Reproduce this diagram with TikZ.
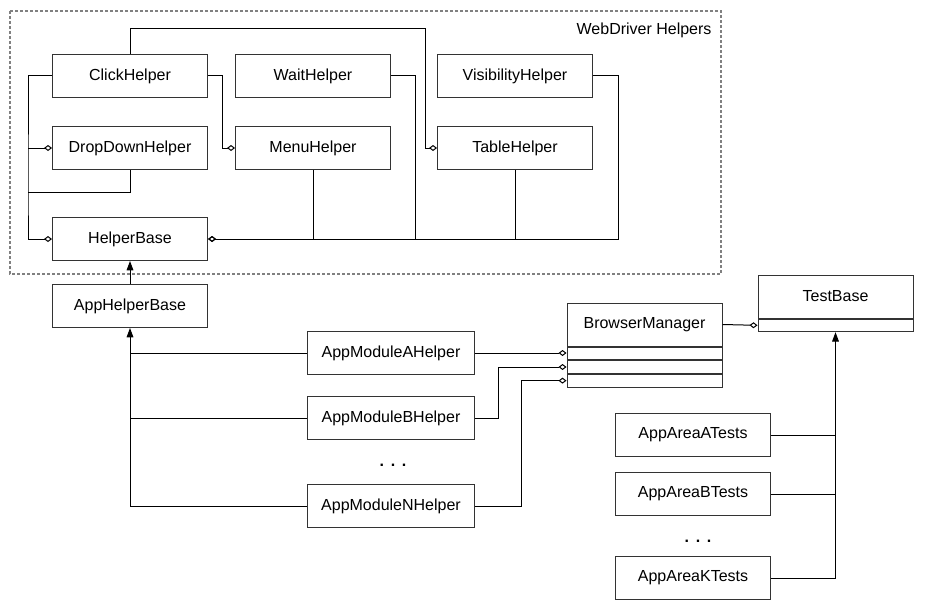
\documentclass[tikz,border=0pt]{standalone}
\usepackage{fontspec}
\setmainfont{Liberation Sans}
\usetikzlibrary{arrows.meta,positioning}
\tikzstyle{helper}=[rectangle, draw=black!80, line width=0.75pt, inner sep=0pt, minimum width=116.25pt, minimum height=32.25pt, font=\fontsize{12}{14}\selectfont]
\tikzstyle{modulebox}=[helper, minimum width=125.25pt]
\tikzstyle{slot}=[rectangle, draw=black!80, line width=0.75pt, inner sep=0pt, minimum width=116.25pt, minimum height=9.5pt]
\tikzstyle{more}=[inner sep=0pt, font=\fontsize{12}{14}\selectfont\bfseries]
\newcommand{\helperbox}{\node[helper]}
\newcommand{\modbox}{\node[modulebox]}

\begin{document}
\begin{tikzpicture}[x=0.75pt, y=-0.75pt, line width=0.75pt
    ,agg/.style={-{Diamond[open,length=6pt,width=4.5pt]}}
    ,inh/.style={-{Triangle[length=7pt,width=5pt]}}
]
\useasboundingbox (0,0) rectangle (925,610);
\draw[black!50, line width=1pt, dash pattern=on 2.25pt off 1.5pt] (10,11) rectangle (721,274);
\node[anchor=east, inner sep=0pt, font=\fontsize{12}{14}\selectfont] (group) at (712,30) {WebDriver Helpers};

\helperbox (click) at (130,76) {ClickHelper};
\helperbox (wait) at (313,76) {WaitHelper};
\helperbox (vis) at (515,76) {VisibilityHelper};
\helperbox (dd) at (130,148) {DropDownHelper};
\helperbox (menu) at (313,148) {MenuHelper};
\helperbox (table) at (515,148) {TableHelper};
\helperbox (hb) at (130,239) {HelperBase};
\helperbox (ahb) at (130,306) {AppHelperBase};

\modbox (ama) at (391,353) {AppModuleAHelper};
\modbox (amb) at (391,418) {AppModuleBHelper};
\modbox (amn) at (391,506) {AppModuleNHelper};
\node[more] (mdots) at (393,465) {.\hspace{5pt}.\hspace{5pt}.};

\helperbox (bm) at (644.5,324.5) {BrowserManager};
\node[slot, below=0pt of bm] (bm1) {};
\node[slot, below=0pt of bm1] (bm2) {};
\node[slot, below=0pt of bm2] (bm3) {};

\helperbox (tb) at (835.5,296.5) {TestBase};
\node[slot, below=0pt of tb] (tb1) {};

\helperbox (ta) at (693,435) {AppAreaATests};
\helperbox (tbt) at (693,494) {AppAreaBTests};
\helperbox (tk) at (693,578) {AppAreaKTests};
\node[more] (tdots) at (698,541) {.\hspace{5pt}.\hspace{5pt}.};

\coordinate (lbus) at (28,192);
\coordinate (trail) at (425,29);
\coordinate (wbus) at (415,239);
\coordinate (vbus) at (618,239);

\draw[agg] (click.west) -| (lbus) |- (hb.west);
\draw[agg] (lbus |- dd.west) -- (dd.west);
\draw (dd.south) |- (lbus);
\draw[agg] (click.east) -- ++(14,0) |- (menu.west);
\draw[agg] (click.north) |- (trail) |- (table.west);
\draw[agg] (wait.east) -| (wbus) -- (hb.east);
\draw[agg] (vis.east) -| (vbus) -- (hb.east);
\draw (menu.south) -- (menu.south |- hb.east);
\draw (table.south) -- (table.south |- hb.east);

\draw[inh] (ahb.north) -- (hb.south);
\draw[inh] (amn.west) -| (ahb.south);
\draw (ama.west) -- (ama.west -| ahb.south);
\draw (amb.west) -- (amb.west -| ahb.south);

\draw[agg] (ama.east) -- (ama.east -| bm1.west);
\draw[agg] (amb.east) -- ++(23,0) |- (bm2.west);
\draw[agg] (amn.east) -- ++(46,0) |- (bm3.west);
\draw[agg] (bm.east) -- (tb1.west);

\draw[inh] (tk.east) -| (tb1.south);
\draw (ta.east) -- (ta.east -| tb1.south);
\draw (tbt.east) -- (tbt.east -| tb1.south);
\end{tikzpicture}
\end{document}
